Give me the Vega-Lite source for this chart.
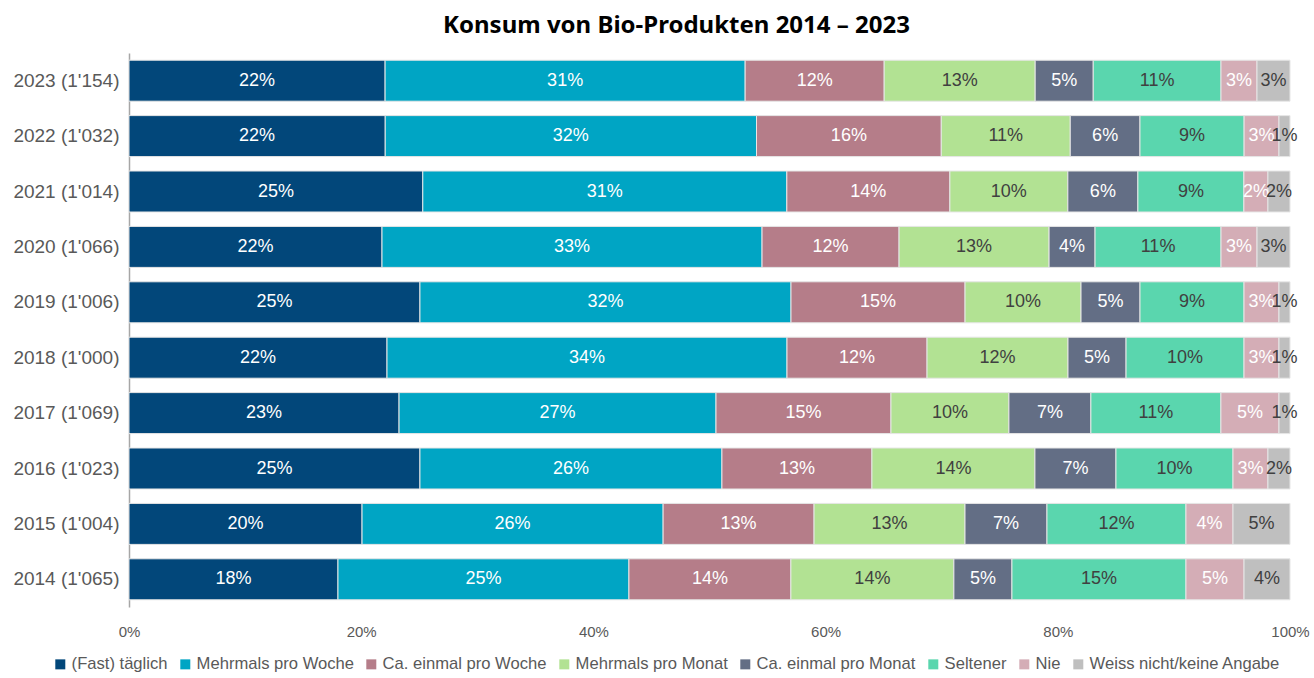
{
  "$schema": "https://vega.github.io/schema/vega-lite/v6.json",
  "autosize": {"type": "none"},
  "width": 1161,
  "height": 554,
  "padding": {"left": 129, "top": 53, "right": 24, "bottom": 71},
  "background": "white",
  "title": {
    "text": "Konsum von Bio-Produkten 2014 – 2023",
    "font": "Noto Sans",
    "fontSize": 24,
    "fontWeight": "bold",
    "color": "#000000",
    "anchor": "middle",
    "frame": "group",
    "dx": -33,
    "offset": 15
  },
  "config": {
    "view": {"stroke": null}
  },
  "data": {
    "values": [
      {"y": "2023 (1'154)", "c": "(Fast) täglich", "o": 1, "v": 0.2205},
      {"y": "2023 (1'154)", "c": "Mehrmals pro Woche", "o": 2, "v": 0.310},
      {"y": "2023 (1'154)", "c": "Ca. einmal pro Woche", "o": 3, "v": 0.1197},
      {"y": "2023 (1'154)", "c": "Mehrmals pro Monat", "o": 4, "v": 0.130},
      {"y": "2023 (1'154)", "c": "Ca. einmal pro Monat", "o": 5, "v": 0.050},
      {"y": "2023 (1'154)", "c": "Seltener", "o": 6, "v": 0.110},
      {"y": "2023 (1'154)", "c": "Nie", "o": 7, "v": 0.031},
      {"y": "2023 (1'154)", "c": "Weiss nicht/keine Angabe", "o": 8, "v": 0.0284},

      {"y": "2022 (1'032)", "c": "(Fast) täglich", "o": 1, "v": 0.2205},
      {"y": "2022 (1'032)", "c": "Mehrmals pro Woche", "o": 2, "v": 0.3195},
      {"y": "2022 (1'032)", "c": "Ca. einmal pro Woche", "o": 3, "v": 0.159},
      {"y": "2022 (1'032)", "c": "Mehrmals pro Monat", "o": 4, "v": 0.111},
      {"y": "2022 (1'032)", "c": "Ca. einmal pro Monat", "o": 5, "v": 0.060},
      {"y": "2022 (1'032)", "c": "Seltener", "o": 6, "v": 0.0896},
      {"y": "2022 (1'032)", "c": "Nie", "o": 7, "v": 0.030},
      {"y": "2022 (1'032)", "c": "Weiss nicht/keine Angabe", "o": 8, "v": 0.0095},

      {"y": "2021 (1'014)", "c": "(Fast) täglich", "o": 1, "v": 0.253},
      {"y": "2021 (1'014)", "c": "Mehrmals pro Woche", "o": 2, "v": 0.3135},
      {"y": "2021 (1'014)", "c": "Ca. einmal pro Woche", "o": 3, "v": 0.1404},
      {"y": "2021 (1'014)", "c": "Mehrmals pro Monat", "o": 4, "v": 0.1016},
      {"y": "2021 (1'014)", "c": "Ca. einmal pro Monat", "o": 5, "v": 0.0603},
      {"y": "2021 (1'014)", "c": "Seltener", "o": 6, "v": 0.0913},
      {"y": "2021 (1'014)", "c": "Nie", "o": 7, "v": 0.0207},
      {"y": "2021 (1'014)", "c": "Weiss nicht/keine Angabe", "o": 8, "v": 0.019},

      {"y": "2020 (1'066)", "c": "(Fast) täglich", "o": 1, "v": 0.2179},
      {"y": "2020 (1'066)", "c": "Mehrmals pro Woche", "o": 2, "v": 0.3273},
      {"y": "2020 (1'066)", "c": "Ca. einmal pro Woche", "o": 3, "v": 0.118},
      {"y": "2020 (1'066)", "c": "Mehrmals pro Monat", "o": 4, "v": 0.1292},
      {"y": "2020 (1'066)", "c": "Ca. einmal pro Monat", "o": 5, "v": 0.0396},
      {"y": "2020 (1'066)", "c": "Seltener", "o": 6, "v": 0.1085},
      {"y": "2020 (1'066)", "c": "Nie", "o": 7, "v": 0.031},
      {"y": "2020 (1'066)", "c": "Weiss nicht/keine Angabe", "o": 8, "v": 0.0284},

      {"y": "2019 (1'006)", "c": "(Fast) täglich", "o": 1, "v": 0.2506},
      {"y": "2019 (1'006)", "c": "Mehrmals pro Woche", "o": 2, "v": 0.3196},
      {"y": "2019 (1'006)", "c": "Ca. einmal pro Woche", "o": 3, "v": 0.1499},
      {"y": "2019 (1'006)", "c": "Mehrmals pro Monat", "o": 4, "v": 0.0999},
      {"y": "2019 (1'006)", "c": "Ca. einmal pro Monat", "o": 5, "v": 0.0508},
      {"y": "2019 (1'006)", "c": "Seltener", "o": 6, "v": 0.0896},
      {"y": "2019 (1'006)", "c": "Nie", "o": 7, "v": 0.0301},
      {"y": "2019 (1'006)", "c": "Weiss nicht/keine Angabe", "o": 8, "v": 0.0095},

      {"y": "2018 (1'000)", "c": "(Fast) täglich", "o": 1, "v": 0.2222},
      {"y": "2018 (1'000)", "c": "Mehrmals pro Woche", "o": 2, "v": 0.3445},
      {"y": "2018 (1'000)", "c": "Ca. einmal pro Woche", "o": 3, "v": 0.1206},
      {"y": "2018 (1'000)", "c": "Mehrmals pro Monat", "o": 4, "v": 0.1214},
      {"y": "2018 (1'000)", "c": "Ca. einmal pro Monat", "o": 5, "v": 0.050},
      {"y": "2018 (1'000)", "c": "Seltener", "o": 6, "v": 0.1016},
      {"y": "2018 (1'000)", "c": "Nie", "o": 7, "v": 0.0301},
      {"y": "2018 (1'000)", "c": "Weiss nicht/keine Angabe", "o": 8, "v": 0.0095},

      {"y": "2017 (1'069)", "c": "(Fast) täglich", "o": 1, "v": 0.2326},
      {"y": "2017 (1'069)", "c": "Mehrmals pro Woche", "o": 2, "v": 0.273},
      {"y": "2017 (1'069)", "c": "Ca. einmal pro Woche", "o": 3, "v": 0.1507},
      {"y": "2017 (1'069)", "c": "Mehrmals pro Monat", "o": 4, "v": 0.1016},
      {"y": "2017 (1'069)", "c": "Ca. einmal pro Monat", "o": 5, "v": 0.0706},
      {"y": "2017 (1'069)", "c": "Seltener", "o": 6, "v": 0.112},
      {"y": "2017 (1'069)", "c": "Nie", "o": 7, "v": 0.050},
      {"y": "2017 (1'069)", "c": "Weiss nicht/keine Angabe", "o": 8, "v": 0.0095},

      {"y": "2016 (1'023)", "c": "(Fast) täglich", "o": 1, "v": 0.2506},
      {"y": "2016 (1'023)", "c": "Mehrmals pro Woche", "o": 2, "v": 0.2601},
      {"y": "2016 (1'023)", "c": "Ca. einmal pro Woche", "o": 3, "v": 0.1292},
      {"y": "2016 (1'023)", "c": "Mehrmals pro Monat", "o": 4, "v": 0.1404},
      {"y": "2016 (1'023)", "c": "Ca. einmal pro Monat", "o": 5, "v": 0.0698},
      {"y": "2016 (1'023)", "c": "Seltener", "o": 6, "v": 0.1008},
      {"y": "2016 (1'023)", "c": "Nie", "o": 7, "v": 0.0301},
      {"y": "2016 (1'023)", "c": "Weiss nicht/keine Angabe", "o": 8, "v": 0.019},

      {"y": "2015 (1'004)", "c": "(Fast) täglich", "o": 1, "v": 0.2007},
      {"y": "2015 (1'004)", "c": "Mehrmals pro Woche", "o": 2, "v": 0.2593},
      {"y": "2015 (1'004)", "c": "Ca. einmal pro Woche", "o": 3, "v": 0.130},
      {"y": "2015 (1'004)", "c": "Mehrmals pro Monat", "o": 4, "v": 0.130},
      {"y": "2015 (1'004)", "c": "Ca. einmal pro Monat", "o": 5, "v": 0.0706},
      {"y": "2015 (1'004)", "c": "Seltener", "o": 6, "v": 0.1197},
      {"y": "2015 (1'004)", "c": "Nie", "o": 7, "v": 0.0405},
      {"y": "2015 (1'004)", "c": "Weiss nicht/keine Angabe", "o": 8, "v": 0.0491},

      {"y": "2014 (1'065)", "c": "(Fast) täglich", "o": 1, "v": 0.180},
      {"y": "2014 (1'065)", "c": "Mehrmals pro Woche", "o": 2, "v": 0.2506},
      {"y": "2014 (1'065)", "c": "Ca. einmal pro Woche", "o": 3, "v": 0.1395},
      {"y": "2014 (1'065)", "c": "Mehrmals pro Monat", "o": 4, "v": 0.1404},
      {"y": "2014 (1'065)", "c": "Ca. einmal pro Monat", "o": 5, "v": 0.050},
      {"y": "2014 (1'065)", "c": "Seltener", "o": 6, "v": 0.1499},
      {"y": "2014 (1'065)", "c": "Nie", "o": 7, "v": 0.050},
      {"y": "2014 (1'065)", "c": "Weiss nicht/keine Angabe", "o": 8, "v": 0.0396}
    ]
  },
  "encoding": {
    "y": {
      "field": "y",
      "type": "nominal",
      "sort": null,
      "scale": {"paddingInner": 0.26, "paddingOuter": 0.13},
      "axis": {
        "title": null,
        "domain": true,
        "domainColor": "#a6a6a6",
        "domainWidth": 1.5,
        "ticks": false,
        "labelFontSize": 19,
        "labelColor": "#595959",
        "labelPadding": 10
      }
    },
    "x": {
      "field": "v",
      "type": "quantitative",
      "stack": "normalize",
      "scale": {"domain": [0, 1]},
      "axis": {
        "title": null,
        "format": ".0%",
        "values": [0, 0.2, 0.4, 0.6, 0.8, 1],
        "domain": false,
        "ticks": false,
        "grid": false,
        "labelFlush": false,
        "labelFontSize": 15,
        "labelColor": "#595959",
        "labelPadding": 17
      }
    },
    "order": {"field": "o", "type": "quantitative"}
  },
  "layer": [
    {
      "mark": {"type": "bar", "stroke": "#e6e6e6", "strokeWidth": 1},
      "encoding": {
        "color": {
          "field": "c",
          "type": "nominal",
          "sort": ["(Fast) täglich", "Mehrmals pro Woche", "Ca. einmal pro Woche", "Mehrmals pro Monat", "Ca. einmal pro Monat", "Seltener", "Nie", "Weiss nicht/keine Angabe"],
          "scale": {
            "domain": ["(Fast) täglich", "Mehrmals pro Woche", "Ca. einmal pro Woche", "Mehrmals pro Monat", "Ca. einmal pro Monat", "Seltener", "Nie", "Weiss nicht/keine Angabe"],
            "range": ["#02477a", "#00a5c4", "#b57d89", "#b2e293", "#636e85", "#5ad6ae", "#d4adb6", "#bfbfbf"]
          },
          "legend": {
            "title": null,
            "orient": "none",
            "legendX": -77,
            "legendY": 603,
            "direction": "horizontal",
            "columns": 8,
            "symbolType": "square",
            "symbolSize": 100,
            "symbolStrokeWidth": 0,
            "labelFontSize": 16.6,
            "labelColor": "#595959",
            "labelOffset": 3,
            "labelLimit": 300,
            "columnPadding": 9
          }
        }
      }
    },
    {
      "mark": {"type": "text", "fontSize": 18, "baseline": "middle", "align": "center"},
      "encoding": {
        "x": {"field": "v", "type": "quantitative", "stack": "normalize", "bandPosition": 0.5},
        "text": {"field": "v", "type": "quantitative", "format": ".0%"},
        "color": {
          "condition": {"test": "indexof(['Mehrmals pro Monat','Seltener','Weiss nicht/keine Angabe'], datum.c) >= 0", "value": "#404040"},
          "value": "#ffffff"
        }
      }
    }
  ]
}
